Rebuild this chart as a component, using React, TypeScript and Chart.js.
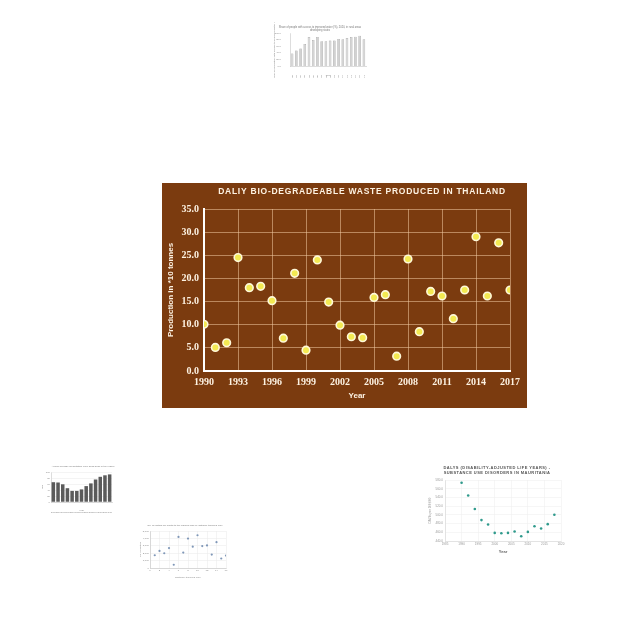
import React, { useEffect, useRef } from "react";
import { Chart, registerables } from "chart.js";

Chart.register(...registerables);

// ---------- Main chart data ----------
const wasteYears = [
  1990, 1991, 1992, 1993, 1994, 1995, 1996, 1997, 1998, 1999, 2000, 2001, 2002, 2003,
  2004, 2005, 2006, 2007, 2008, 2009, 2010, 2011, 2012, 2013, 2014, 2015, 2016, 2017,
];
const wasteValues = [
  10.1, 5.1, 6.1, 24.5, 18.0, 18.3, 15.2, 7.1, 21.1, 4.5, 24.0, 14.9, 9.9, 7.4,
  7.2, 15.9, 16.5, 3.2, 24.2, 8.5, 17.2, 16.2, 11.3, 17.5, 29.0, 16.2, 27.7, 17.5,
];
const wasteXTicks = [1990, 1993, 1996, 1999, 2002, 2005, 2008, 2011, 2014, 2017];
const wasteYTicks = [0, 5, 10, 15, 20, 25, 30, 35];
const wasteTitle = "DALIY BIO-DEGRADEABLE WASTE PRODUCED IN THAILAND";
const wasteYTitle = "Production in *10 tonnes";
const wasteXTitle = "Year";

// ---------- Thumbnail: top bar chart ----------
const topBarLabels = [
  "2000", "2001", "2002", "2003", "2004", "2005", "2006", "2007", "2008",
  "2009", "2010", "2011", "2012", "2013", "2014", "2015", "2016", "2017",
];
const topBarValues = [38, 47, 53, 67, 88, 79, 88, 75, 75, 77, 77, 82, 81, 85, 88, 89, 92, 81];
const topBarTitle = ["Share of people with access to improved water (%), 2020, in rural areas", "developing states"];

// ---------- Thumbnail: bottom-left bar chart ----------
const leftBarLabels = ["2005", "2006", "2007", "2008", "2009", "2010", "2011", "2012", "2013", "2014", "2015", "2016", "2017"];
const leftBarValues = [66, 65, 59, 46, 37, 37, 42, 53, 62, 75, 84, 89, 92];
const leftBarTitle = ["Annual average precipitation (mm) 2005-2017 in the region"];

// ---------- Thumbnail: scatter ----------
const scatterX = [1, 2, 3, 4, 5, 6, 7, 8, 9, 10, 11, 12, 13, 14, 15, 16];
const scatterY = [1726, 2301, 1991, 2699, 442, 4204, 2080, 3982, 2876, 4425, 2965, 3053, 1814, 3496, 1283, 1681];
const scatterTitle = ["No. of visitors per month to the regional park by distance travelled (km)"];

// ---------- Thumbnail: Mauritania DALYs ----------
const dalyYears = [1990, 1992, 1994, 1996, 1998, 2000, 2002, 2004, 2006, 2008, 2010, 2012, 2014, 2016, 2018];
const dalyValues = [573.8, 544.4, 513.5, 488.0, 477.9, 458.6, 457.8, 458.6, 461.7, 450.8, 460.9, 474.0, 468.6, 478.7, 500.3];
const dalyXTicks = [1985, 1990, 1995, 2000, 2005, 2010, 2015, 2020];
const dalyYTicks = [440, 460, 480, 500, 520, 540, 560, 580];
const dalyTitle = ["DALYS (DISABILITY-ADJUSTED LIFE YEARS) -", "SUBSTANCE USE DISORDERS IN MAURITANIA"];

// ---------- Plugins ----------
const spacedTitle = {
  id: "spacedTitle",
  afterDraw(chart: any, _args: any, opts: any) {
    if (!opts || !opts.lines) return;
    const ctx = chart.ctx;
    ctx.save();
    ctx.font = opts.font;
    ctx.fillStyle = opts.color;
    (ctx as any).letterSpacing = (opts.spacing || 0) + "px";
    ctx.textAlign = "center";
    ctx.textBaseline = "middle";
    opts.lines.forEach((l: string, i: number) => ctx.fillText(l, opts.x, opts.y + i * opts.lineHeight));
    ctx.restore();
  },
};

const bgPlugin = {
  id: "bg",
  beforeDraw(chart: any, _args: any, opts: any) {
    if (!opts || !opts.color) return;
    const ctx = chart.ctx;
    ctx.save();
    ctx.fillStyle = opts.color;
    ctx.fillRect(0, 0, chart.width, chart.height);
    ctx.restore();
  },
};

function ChartBox({ left, top, width, height, config }: any) {
  const ref = useRef<HTMLCanvasElement>(null);
  useEffect(() => {
    const c = new Chart(ref.current as HTMLCanvasElement, { ...config, plugins: [bgPlugin, spacedTitle] });
    return () => c.destroy();
  }, []);
  return (
    <div style={{ position: "absolute", left, top, width, height }}>
      <canvas ref={ref} width={width} height={height} style={{ width, height, display: "block" }} />
    </div>
  );
}

// ---------- Configs ----------
const CREAM = "#fdf2e2";
const BROWN = "#7b3b0f";
const GRID = "rgba(240, 200, 160, 0.55)";

const mainConfig = {
  type: "scatter",
  data: {
    datasets: [
      {
        data: wasteYears.map((x, i) => ({ x, y: wasteValues[i] })),
        pointRadius: 3.8,
        pointHoverRadius: 3.8,
        pointBorderWidth: 1.6,
        backgroundColor: "#f3ea52",
        borderColor: "#fff8d8",
      },
    ],
  },
  options: {
    animation: false,
    responsive: false,
    events: [],
    layout: { padding: { top: 26, right: 17, left: 0, bottom: 0 } },
    plugins: {
      legend: { display: false },
      tooltip: { enabled: false },
      bg: { color: BROWN },
      spacedTitle: {
        lines: [wasteTitle],
        x: 200,
        y: 9,
        lineHeight: 10,
        font: "bold 8.5px 'Liberation Sans'",
        color: CREAM,
        spacing: 0.75,
      },
    },
    scales: {
      x: {
        type: "linear",
        min: 1990,
        max: 2017,
        afterBuildTicks: (s: any) => {
          s.ticks = wasteXTicks.map((v) => ({ value: v }));
        },
        afterFit: (s: any) => {
          s.height = 37;
        },
        ticks: {
          color: CREAM,
          padding: 5,
          font: { family: "'Liberation Serif'", weight: "bold", size: 10 },
          callback: (v: any) => String(v),
          maxRotation: 0,
        },
        grid: { color: GRID, lineWidth: 1, drawTicks: false },
        border: { color: "#ffffff", width: 2 },
        title: {
          display: true,
          text: wasteXTitle,
          color: CREAM,
          font: { family: "'Liberation Sans'", weight: "bold", size: 8 },
          padding: { top: 0, bottom: 7 },
        },
      },
      y: {
        type: "linear",
        min: 0,
        max: 35,
        afterBuildTicks: (s: any) => {
          s.ticks = wasteYTicks.map((v) => ({ value: v }));
        },
        afterFit: (s: any) => {
          s.width = 42;
        },
        ticks: {
          color: CREAM,
          padding: 5,
          font: { family: "'Liberation Serif'", weight: "bold", size: 10 },
          callback: (v: any) => Number(v).toFixed(1),
        },
        grid: { color: GRID, lineWidth: 1, drawTicks: false },
        border: { color: "#ffffff", width: 2 },
        title: {
          display: true,
          text: wasteYTitle,
          color: CREAM,
          font: { family: "'Liberation Sans'", weight: "bold", size: 8 },
          padding: { top: 3.5, bottom: 0 },
        },
      },
    },
  },
};

const tinyFont = { family: "'Liberation Sans'", size: 2.5 };
const tinyTick = { color: "#888", font: tinyFont, padding: 1 };
const lightGrid = { color: "#e8e8e8", lineWidth: 0.5, drawTicks: false };

const topBarConfig = {
  type: "bar",
  data: {
    labels: topBarLabels,
    datasets: [
      {
        data: topBarValues,
        backgroundColor: "#d2d2d2",
        borderColor: "#9a9a9a",
        borderWidth: 0.6,
        barPercentage: 0.62,
        categoryPercentage: 1,
      },
    ],
  },
  options: {
    animation: false,
    responsive: false,
    events: [],
    layout: { padding: { top: 11, right: 4, left: 0, bottom: 0 } },
    plugins: {
      legend: { display: false },
      tooltip: { enabled: false },
      spacedTitle: { lines: topBarTitle, x: 50, y: 5, lineHeight: 3.5, font: "2.6px 'Liberation Sans'", color: "#777", spacing: 0 },
    },
    scales: {
      x: {
        afterFit: (s: any) => { s.height = 12; },
        ticks: { ...tinyTick, maxRotation: 90, minRotation: 90, autoSkip: false },
        grid: { display: false },
        border: { color: "#bbb", width: 0.5 },
        title: { display: true, text: "Year", color: "#888", font: tinyFont, padding: { top: 0, bottom: 1 } },
      },
      y: {
        min: 0,
        max: 100,
        afterFit: (s: any) => { s.width = 20; },
        ticks: { ...tinyTick, stepSize: 10, callback: (v: any) => Number(v).toFixed(1) },
        grid: { display: false },
        border: { color: "#bbb", width: 0.5 },
        title: { display: true, text: "Share of population with access to improved water (%)", color: "#888", font: tinyFont, padding: { top: 3, bottom: 0 } },
      },
    },
  },
};

const leftBarConfig = {
  type: "bar",
  data: {
    labels: leftBarLabels,
    datasets: [
      {
        data: leftBarValues,
        backgroundColor: "#5b5b5b",
        borderWidth: 0,
        barPercentage: 0.75,
        categoryPercentage: 1,
      },
    ],
  },
  options: {
    animation: false,
    responsive: false,
    events: [],
    layout: { padding: { top: 11, right: 3, left: 0, bottom: 0 } },
    plugins: {
      legend: { display: false },
      tooltip: { enabled: false },
      spacedTitle: { lines: leftBarTitle, x: 43, y: 5, lineHeight: 3.5, font: "2.4px 'Liberation Sans'", color: "#777", spacing: 0 },
    },
    scales: {
      x: {
        afterFit: (s: any) => { s.height = 11; },
        ticks: { ...tinyTick, maxRotation: 0, autoSkip: false, font: { family: "'Liberation Sans'", size: 2 } },
        grid: { display: false },
        border: { color: "#bbb", width: 0.5 },
        title: { display: true, text: "Year", color: "#888", font: tinyFont, padding: { top: 0, bottom: 1 } },
      },
      y: {
        min: 0,
        max: 100,
        afterFit: (s: any) => { s.width = 11; },
        ticks: { ...tinyTick, stepSize: 20 },
        grid: { ...lightGrid },
        border: { color: "#bbb", width: 0.5 },
        title: { display: true, text: "mm", color: "#888", font: tinyFont, padding: { top: 1, bottom: 0 } },
      },
    },
  },
};

const scatterConfig = {
  type: "scatter",
  data: {
    datasets: [
      {
        data: scatterX.map((x, i) => ({ x, y: scatterY[i] })),
        pointRadius: 1.1,
        pointBorderWidth: 0,
        backgroundColor: "#7f97b8",
      },
    ],
  },
  options: {
    animation: false,
    responsive: false,
    events: [],
    layout: { padding: { top: 11, right: 3, left: 0, bottom: 0 } },
    plugins: {
      legend: { display: false },
      tooltip: { enabled: false },
      spacedTitle: { lines: scatterTitle, x: 47, y: 5, lineHeight: 3.5, font: "2.4px 'Liberation Sans'", color: "#777", spacing: 0 },
    },
    scales: {
      x: {
        type: "linear",
        min: 0,
        max: 16,
        afterFit: (s: any) => { s.height = 14; },
        ticks: { ...tinyTick, stepSize: 2 },
        grid: { ...lightGrid },
        border: { color: "#bbb", width: 0.5 },
        title: { display: true, text: "Distance travelled (km)", color: "#888", font: tinyFont, padding: { top: 0, bottom: 3 } },
      },
      y: {
        min: 0,
        max: 5000,
        afterFit: (s: any) => { s.width = 12; },
        ticks: { ...tinyTick, stepSize: 500 },
        grid: { ...lightGrid },
        border: { color: "#bbb", width: 0.5 },
        title: { display: true, text: "No. of visitors", color: "#888", font: tinyFont, padding: { top: 1, bottom: 0 } },
      },
    },
  },
};

const dalyConfig = {
  type: "scatter",
  data: {
    datasets: [
      {
        data: dalyYears.map((x, i) => ({ x, y: dalyValues[i] })),
        pointRadius: 1.3,
        pointBorderWidth: 0,
        backgroundColor: "#2f9a8c",
      },
    ],
  },
  options: {
    animation: false,
    responsive: false,
    events: [],
    layout: { padding: { top: 20, right: 5, left: 0, bottom: 0 } },
    plugins: {
      legend: { display: false },
      tooltip: { enabled: false },
      spacedTitle: {
        lines: dalyTitle,
        x: 79,
        y: 7.5,
        lineHeight: 5.5,
        font: "600 4px 'Liberation Sans'",
        color: "#555",
        spacing: 0.45,
      },
    },
    scales: {
      x: {
        type: "linear",
        min: 1985,
        max: 2020,
        afterBuildTicks: (s: any) => {
          s.ticks = dalyXTicks.map((v) => ({ value: v }));
        },
        afterFit: (s: any) => { s.height = 15; },
        ticks: { color: "#999", font: { family: "'Liberation Sans'", size: 3 }, padding: 1.5, callback: (v: any) => String(v) },
        grid: { color: "#ececec", lineWidth: 0.5, drawTicks: false },
        border: { color: "#cfcfcf", width: 0.5 },
        title: { display: true, text: "Year", color: "#666", font: { family: "'Liberation Sans'", size: 4, weight: "bold" }, padding: { top: 0, bottom: 1.5 } },
      },
      y: {
        type: "linear",
        min: 440,
        max: 580,
        afterBuildTicks: (s: any) => {
          s.ticks = dalyYTicks.map((v) => ({ value: v }));
        },
        afterFit: (s: any) => { s.width = 27; },
        ticks: { color: "#999", font: { family: "'Liberation Sans'", size: 3 }, padding: 2, callback: (v: any) => Number(v).toFixed(1) },
        grid: { color: "#ececec", lineWidth: 0.5, drawTicks: false },
        border: { color: "#cfcfcf", width: 0.5 },
        title: { display: true, text: "DALYs per 100,000", color: "#999", font: { family: "'Liberation Sans'", size: 3 }, padding: { top: 10, bottom: 0 } },
      },
    },
  },
};

export default function App() {
  return (
    <div>
      <ChartBox left={270} top={22} width={100} height={56} config={topBarConfig} />
      <ChartBox left={162} top={183} width={365} height={225} config={mainConfig} />
      <ChartBox left={40} top={461} width={75} height={52} config={leftBarConfig} />
      <ChartBox left={138} top={520} width={92} height={62} config={scatterConfig} />
      <ChartBox left={418} top={460} width={148} height={96} config={dalyConfig} />
    </div>
  );
}
